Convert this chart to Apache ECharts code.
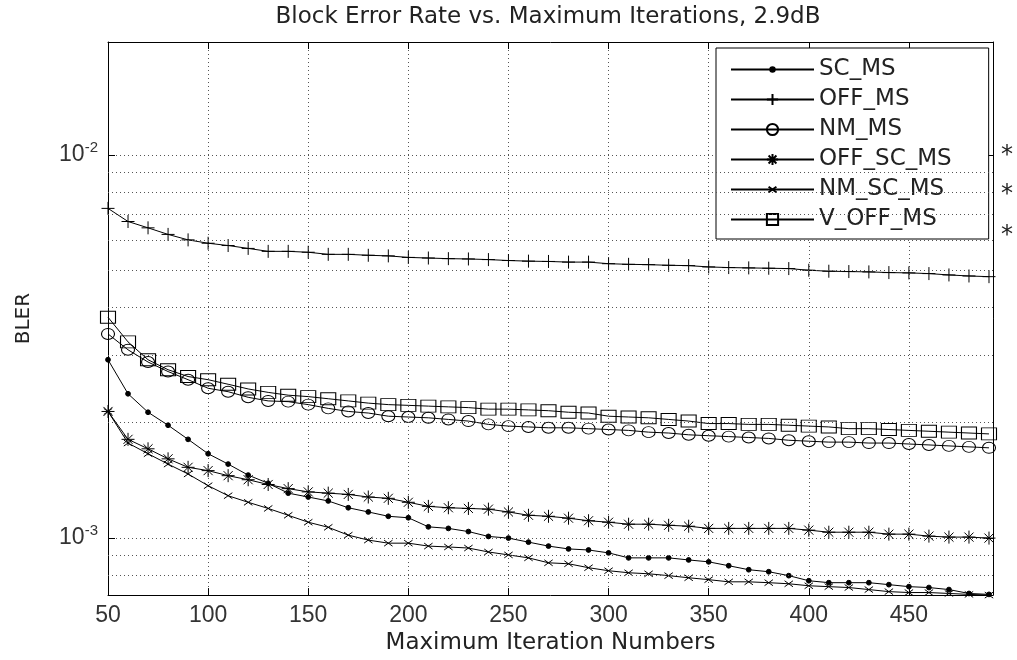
<!DOCTYPE html>
<html>
<head>
<meta charset="utf-8">
<script src="https://cdn.jsdelivr.net/npm/echarts@6/dist/echarts.min.js"></script>
<style>
  html, body { margin: 0; background: #fff; }
  #chart { width: 1017px; height: 660px; }
</style>
</head>
<body>
<div id="chart"></div>
<script>
// iteration counts on the x axis
const iterations = [50, 60, 70, 80, 90, 100, 110, 120, 130, 140, 150, 160, 170, 180, 190,
  200, 210, 220, 230, 240, 250, 260, 270, 280, 290, 300, 310, 320, 330, 340,
  350, 360, 370, 380, 390, 400, 410, 420, 430, 440, 450, 460, 470, 480, 490];

// BLER per scheme
const scMs = [2.92e-3, 2.38e-3, 2.13e-3, 1.97e-3, 1.81e-3, 1.66e-3, 1.56e-3, 1.46e-3, 1.39e-3, 1.31e-3,
  1.28e-3, 1.25e-3, 1.20e-3, 1.17e-3, 1.14e-3, 1.13e-3, 1.07e-3, 1.06e-3, 1.04e-3, 1.01e-3,
  1.0e-3, 9.76e-4, 9.53e-4, 9.37e-4, 9.31e-4, 9.15e-4, 8.88e-4, 8.88e-4, 8.88e-4, 8.77e-4,
  8.67e-4, 8.47e-4, 8.27e-4, 8.17e-4, 7.98e-4, 7.74e-4, 7.65e-4, 7.65e-4, 7.65e-4, 7.56e-4,
  7.47e-4, 7.43e-4, 7.34e-4, 7.17e-4, 7.13e-4];
const offMs = [7.25e-3, 6.7e-3, 6.45e-3, 6.2e-3, 6.0e-3, 5.88e-3, 5.8e-3, 5.7e-3, 5.6e-3, 5.6e-3,
  5.57e-3, 5.5e-3, 5.5e-3, 5.47e-3, 5.45e-3, 5.4e-3, 5.38e-3, 5.36e-3, 5.35e-3, 5.33e-3,
  5.3e-3, 5.28e-3, 5.27e-3, 5.25e-3, 5.25e-3, 5.2e-3, 5.18e-3, 5.17e-3, 5.15e-3, 5.14e-3,
  5.1e-3, 5.08e-3, 5.07e-3, 5.06e-3, 5.05e-3, 5.0e-3, 4.97e-3, 4.96e-3, 4.95e-3, 4.93e-3,
  4.92e-3, 4.9e-3, 4.86e-3, 4.83e-3, 4.81e-3];
const nmMs = [3.41e-3, 3.10e-3, 2.88e-3, 2.72e-3, 2.59e-3, 2.46e-3, 2.41e-3, 2.33e-3, 2.28e-3, 2.27e-3,
  2.23e-3, 2.18e-3, 2.14e-3, 2.12e-3, 2.08e-3, 2.07e-3, 2.06e-3, 2.04e-3, 2.02e-3, 1.98e-3,
  1.96e-3, 1.95e-3, 1.94e-3, 1.94e-3, 1.93e-3, 1.92e-3, 1.91e-3, 1.89e-3, 1.88e-3, 1.86e-3,
  1.85e-3, 1.84e-3, 1.83e-3, 1.82e-3, 1.80e-3, 1.79e-3, 1.78e-3, 1.78e-3, 1.77e-3, 1.77e-3,
  1.76e-3, 1.75e-3, 1.74e-3, 1.73e-3, 1.72e-3];
const offScMs = [2.14e-3, 1.81e-3, 1.71e-3, 1.61e-3, 1.53e-3, 1.50e-3, 1.455e-3, 1.42e-3, 1.38e-3, 1.346e-3,
  1.32e-3, 1.31e-3, 1.30e-3, 1.28e-3, 1.27e-3, 1.24e-3, 1.21e-3, 1.20e-3, 1.195e-3, 1.19e-3,
  1.17e-3, 1.147e-3, 1.14e-3, 1.127e-3, 1.11e-3, 1.10e-3, 1.087e-3, 1.087e-3, 1.08e-3, 1.074e-3,
  1.06e-3, 1.06e-3, 1.06e-3, 1.06e-3, 1.06e-3, 1.049e-3, 1.036e-3, 1.036e-3, 1.036e-3, 1.024e-3,
  1.024e-3, 1.012e-3, 1.006e-3, 1.006e-3, 1.0e-3];
const nmScMs = [2.14e-3, 1.77e-3, 1.66e-3, 1.56e-3, 1.47e-3, 1.37e-3, 1.29e-3, 1.24e-3, 1.195e-3, 1.147e-3,
  1.10e-3, 1.067e-3, 1.018e-3, 9.88e-4, 9.7e-4, 9.7e-4, 9.53e-4, 9.48e-4, 9.42e-4, 9.2e-4,
  9.04e-4, 8.88e-4, 8.62e-4, 8.57e-4, 8.37e-4, 8.22e-4, 8.12e-4, 8.07e-4, 7.98e-4, 7.88e-4,
  7.79e-4, 7.69e-4, 7.69e-4, 7.65e-4, 7.6e-4, 7.51e-4, 7.47e-4, 7.43e-4, 7.34e-4, 7.25e-4,
  7.21e-4, 7.21e-4, 7.17e-4, 7.13e-4, 7.1e-4];
const vOffMs = [3.77e-3, 3.25e-3, 2.92e-3, 2.75e-3, 2.64e-3, 2.59e-3, 2.52e-3, 2.45e-3, 2.40e-3, 2.36e-3,
  2.34e-3, 2.31e-3, 2.28e-3, 2.25e-3, 2.23e-3, 2.22e-3, 2.21e-3, 2.20e-3, 2.19e-3, 2.17e-3,
  2.17e-3, 2.16e-3, 2.15e-3, 2.13e-3, 2.12e-3, 2.08e-3, 2.07e-3, 2.06e-3, 2.04e-3, 2.02e-3,
  1.99e-3, 1.99e-3, 1.98e-3, 1.98e-3, 1.97e-3, 1.96e-3, 1.95e-3, 1.93e-3, 1.93e-3, 1.92e-3,
  1.91e-3, 1.90e-3, 1.89e-3, 1.88e-3, 1.87e-3];

// dotted minor grid lines of the log axis
const minorGrid = [8e-4, 9e-4, 2e-3, 3e-3, 4e-3, 5e-3, 6e-3, 7e-3, 8e-3, 9e-3];
const starRows = [152, 191, 232];

const X_MIN = 50, X_MAX = 492, Y_MIN = 7.1e-4, Y_MAX = 0.0197;
const TICK_FONT = "'Liberation Sans', Arial, sans-serif";
const TEXT_FONT = "'DejaVu Sans', sans-serif";
const dotted = { type: [1, 3], color: '#555', width: 1 };

// marker shapes (MATLAB-like), drawn in a 10x10 box
const SYM = {
  dot: 'path://M0,0M10,10M5,3A2,2,0,1,1,5,7A2,2,0,1,1,5,3Z',
  plus: 'path://M5,0V10M0,5H10',
  star: 'path://M5,0V10M0,5H10M1.5,1.5L8.5,8.5M8.5,1.5L1.5,8.5',
  cross: 'path://M0,0M10,10M1.5,2.5L8.5,7.5M8.5,2.5L1.5,7.5',
  square: 'path://M0,0H10V10H0Z'
};

const chart = echarts.init(document.getElementById('chart'));

function mkSeries(name, vals, symbol, size, fill) {
  return {
    name, type: 'line',
    data: iterations.map((x, i) => [x, vals[i]]),
    symbol, symbolSize: size, showAllSymbol: true,
    lineStyle: { color: '#000', width: 1 },
    itemStyle: { color: fill || 'transparent', borderColor: '#000', borderWidth: 1 },
    emphasis: { disabled: true },
    z: 3
  };
}

const series = [
  mkSeries('SC_MS', scMs, SYM.dot, 12, '#000'),
  mkSeries('OFF_MS', offMs, SYM.plus, 13),
  mkSeries('NM_MS', nmMs, 'circle', [13, 11]),
  mkSeries('OFF_SC_MS', offScMs, SYM.star, 13),
  mkSeries('NM_SC_MS', nmScMs, SYM.cross, 12),
  mkSeries('V_OFF_MS', vOffMs, SYM.square, [15, 12])
];
series[0].markLine = {
  silent: true, symbol: ['none', 'none'], label: { show: false },
  lineStyle: dotted, animation: false,
  data: minorGrid.map(v => [{ coord: [X_MIN, v] }, { coord: [X_MAX, v] }])
};

chart.setOption({
  animation: false,
  backgroundColor: '#fff',
  legend: {
    orient: 'vertical', left: 716, top: 48,
    padding: [10, 37, 8, 14], itemGap: 7,
    itemWidth: 83, itemHeight: 14,
    backgroundColor: '#fff', borderColor: '#000', borderWidth: 1,
    textStyle: { fontFamily: TEXT_FONT, fontSize: 23, color: '#222' },
    data: series.map(s => s.name)
  },
  grid: { left: 108, right: 24, top: 42, bottom: 60 },
  xAxis: [{
    type: 'value', min: X_MIN, max: X_MAX, interval: 50,
    name: 'Maximum Iteration Numbers', nameLocation: 'middle', nameGap: 29,
    nameTextStyle: { fontFamily: TEXT_FONT, fontSize: 23, color: '#222' },
    axisLine: { lineStyle: { color: '#000', width: 1 } },
    axisTick: { inside: true, length: 7, lineStyle: { color: '#000' } },
    axisLabel: { color: '#333', fontFamily: TICK_FONT, fontSize: 23, margin: 9, showMaxLabel: false },
    splitLine: { show: true, lineStyle: dotted }
  }, {
    type: 'value', position: 'top', min: X_MIN, max: X_MAX, interval: 50,
    axisLine: { lineStyle: { color: '#000', width: 1 } },
    axisTick: { inside: true, length: 7, lineStyle: { color: '#000' } },
    axisLabel: { show: false }, splitLine: { show: false }
  }],
  yAxis: [{
    type: 'log', logBase: 10, min: Y_MIN, max: Y_MAX,
    name: 'BLER', nameLocation: 'middle', nameGap: 74, nameRotate: 90,
    nameTextStyle: { fontFamily: TEXT_FONT, fontSize: 20, color: '#222' },
    axisLine: { show: true, lineStyle: { color: '#000', width: 1 } },
    axisTick: { inside: true, length: 7, lineStyle: { color: '#000' } },
    axisLabel: {
      color: '#333', fontFamily: TICK_FONT, fontSize: 23, margin: 10,
      showMinLabel: false, showMaxLabel: false,
      formatter: v => {
        const e = Math.log10(v);
        const r = Math.round(e);
        return Math.abs(e - r) < 1e-6 ? '10{sup|' + r + '}' : '';
      },
      rich: { sup: { fontFamily: TICK_FONT, fontSize: 15, padding: [0, 0, 14, 0] } }
    },
    splitLine: { show: true, lineStyle: dotted }
  }, {
    type: 'log', logBase: 10, min: Y_MIN, max: Y_MAX, position: 'right',
    axisLine: { show: true, lineStyle: { color: '#000', width: 1 } },
    axisTick: { inside: true, length: 7, lineStyle: { color: '#000' } },
    axisLabel: { show: false }, splitLine: { show: false }
  }],
  graphic: [{
    type: 'text', x: 548, y: 17,
    style: {
      text: 'Block Error Rate vs. Maximum Iterations, 2.9dB',
      align: 'center', verticalAlign: 'middle',
      fontFamily: TEXT_FONT, fontSize: 23, fill: '#222'
    }
  }].concat(starRows.map(y => ({
    type: 'text', left: 1001, top: y - 8,
    style: { text: '*', fontFamily: TEXT_FONT, fontSize: 24, fill: '#222' }
  }))),
  series
});
</script>
</body>
</html>
